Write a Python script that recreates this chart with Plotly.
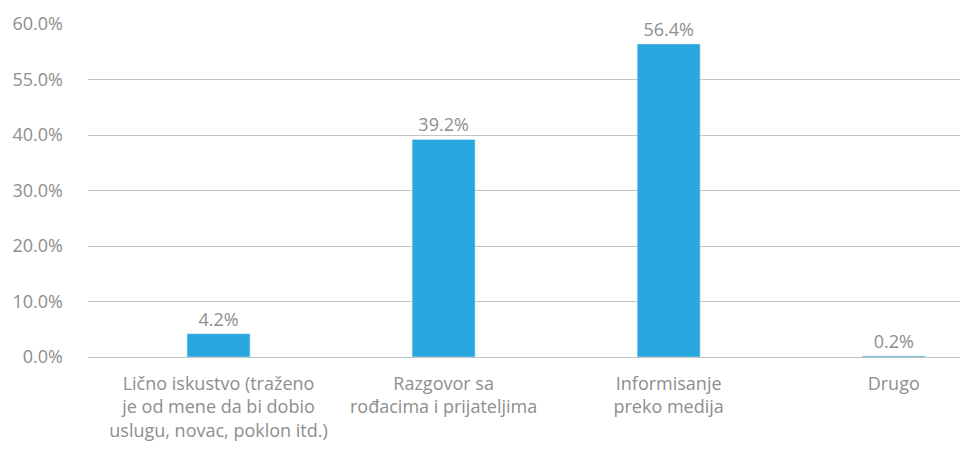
import plotly.graph_objects as go

categories = [
    "Lično iskustvo (traženo<br>je od mene da bi dobio<br>uslugu, novac, poklon itd.)",
    "Razgovor sa<br>rođacima i prijateljima",
    "Informisanje<br>preko medija",
    "Drugo",
]
values = [4.2, 39.2, 56.4, 0.2]
tick_vals = [0, 10, 20, 30, 40, 50, 60]
tick_text = ["0.0%", "10.0%", "20.0%", "30.0%", "40.0%", "55.0%", "60.0%"]

grey = "#8e8e8e"

fig = go.Figure(go.Bar(
    x=categories, y=values,
    marker_color="#29a7df",
    text=[f"{v:.1f}%" for v in values],
    textposition="outside",
    textfont=dict(color=grey, size=18),
    cliponaxis=False,
))

# page body adds an 8px offset, so the figure is 8px smaller
fig.update_layout(
    width=960, height=442,
    margin=dict(l=80, r=0, t=16, b=93),
    paper_bgcolor="white", plot_bgcolor="white",
    font=dict(family="Open Sans, sans-serif", color=grey, size=18),
    bargap=0.72,
    showlegend=False,
)
fig.update_xaxes(range=[-0.58, 3.33], showgrid=False, showline=False, ticks="",
                 automargin=False, ticklabelstandoff=14,
                 tickfont=dict(size=18, color=grey))
fig.update_yaxes(range=[0, 60], tickvals=tick_vals, ticktext=tick_text,
                 showgrid=True, gridcolor="#c4c4c4", gridwidth=1,
                 zeroline=True, zerolinecolor="#c4c4c4", zerolinewidth=1,
                 showline=False, ticks="", ticklabelstandoff=24, automargin=False,
                 tickfont=dict(size=18, color=grey))

fig.write_html("out.html")
